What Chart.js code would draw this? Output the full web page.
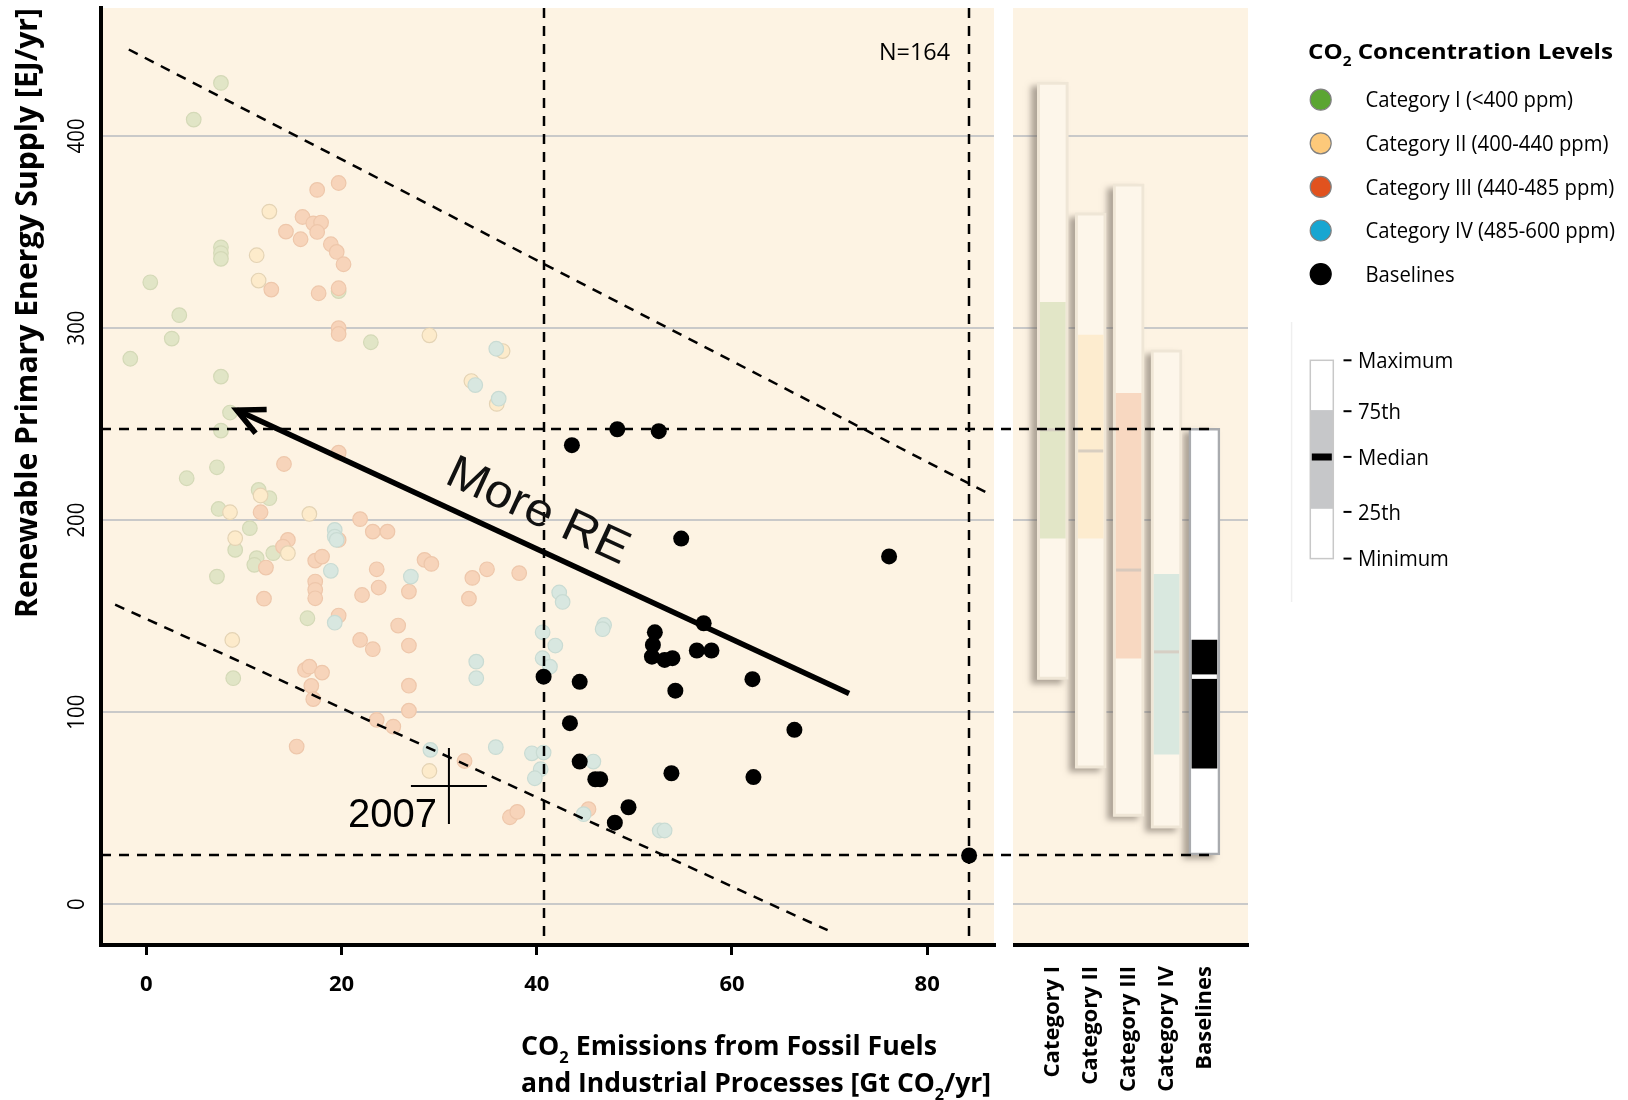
<!DOCTYPE html>
<html>
<head>
<meta charset="utf-8">
<title>Renewable primary energy supply vs CO2 emissions</title>
<script src="https://cdn.jsdelivr.net/npm/chart.js@4.4.1/dist/chart.umd.min.js"></script>
<style>
  html, body { margin: 0; padding: 0; background: #ffffff; }
  body { width: 1628px; height: 1100px; position: relative; overflow: hidden; }
  canvas { position: absolute; top: 0; }
  #mainChart { left: 0; }
  #boxChart { left: 1013px; }
</style>
</head>
<body>
<canvas id="mainChart" width="1013" height="1100"></canvas>
<canvas id="boxChart" width="615" height="1100"></canvas>
<script>
// ---------------- data ----------------
const xTicks = [0, 20, 40, 60, 80];
const yTicks = [0, 100, 200, 300, 400];
const categories = ['Category I', 'Category II', 'Category III', 'Category IV', 'Baselines'];
const legendLabels = ['Category I (<400 ppm)', 'Category II (400-440 ppm)', 'Category III (440-485 ppm)', 'Category IV (485-600 ppm)', 'Baselines'];
const boxLegendLabels = ['Maximum', '75th', 'Median', '25th', 'Minimum'];
const sampleLabel = 'N=164';
const yearLabel = '2007';
const arrowLabel = 'More RE';

// Category I (<400 ppm)
const catI_CO2 = [7.64, 4.85, 7.64, 7.64, 7.64, 0.4, 3.37, 2.6, -1.65, 7.64, 8.57, 7.64, 19.7, 23.0,
  4.13, 7.23, 11.5, 12.6, 7.4, 10.6, 9.1, 13.0, 11.3, 11.06, 7.23, 16.5, 8.9];
const catI_RE = [427.6, 408.5, 342, 339, 336, 323.8, 306.7, 294.5, 284, 274.7, 256, 246.6, 319.2, 292.6,
  221.8, 227.5, 215.7, 211.4, 205.8, 195.8, 184.5, 182.8, 180.2, 176.7, 170.6, 148.9, 117.7];

// Category II (400-440 ppm)
const catII_CO2 = [12.6, 11.3, 11.5, 29.0, 36.5, 33.3, 35.9, 11.7, 8.57, 16.7, 9.1, 14.5, 8.8, 29.0];
const catII_RE = [360.6, 337.9, 324.7, 296.2, 288, 272.4, 260.5, 212.8, 204.1, 203.2, 190.6, 182.8, 137.6, 69.4];

// Category III (440-485 ppm)
const catIII_CO2 = [19.7, 17.5, 16.0, 17.1, 17.9, 17.5, 14.3, 15.8, 18.9, 19.5, 20.2, 12.8, 17.65, 19.7, 19.7, 19.7,
  14.1, 19.7, 11.7, 21.9, 23.2, 24.7, 14.5, 14.0, 12.25, 17.3, 18.0, 19.7, 17.3, 17.3, 17.3, 12.05, 22.1, 23.8,
  23.6, 28.5, 29.2, 26.9, 19.7, 25.8, 21.9, 23.2, 26.9, 16.25, 16.7, 18.0, 16.9, 17.1, 26.9, 26.9, 15.4, 23.6,
  25.3, 32.6, 33.4, 33.05, 34.9, 38.2, 37.25, 38.0, 45.3];
const catIII_RE = [375.5, 371.9, 357.8, 354.5, 354.9, 350, 350.2, 346.2, 343.6, 339.6, 333.2, 320, 318.1, 320.7, 299.9, 296.9,
  229.2, 235.1, 204.1, 200.5, 194, 194, 189.7, 186.2, 175.3, 178.9, 181, 189.7, 168, 163.7, 159.3, 159.1, 161, 164.9,
  174.4, 179.3, 177.2, 162.8, 150.3, 145.1, 137.6, 132.8, 134.7, 122, 123.7, 120.6, 113.7, 106.8, 113.8, 100.8, 82.1, 96,
  92.5, 74.6, 169.9, 159.1, 174.4, 172.4, 45.3, 48.1, 49.5];

// Category IV (485-600 ppm)
const catIV_CO2 = [19.3, 19.3, 19.5, 18.9, 19.3, 27.1, 33.8, 33.8, 29.1, 42.3, 42.65, 46.9, 46.75, 40.6, 41.9, 40.6,
  41.35, 35.8, 39.5, 40.7, 40.4, 39.8, 45.8, 44.8, 52.6, 53.1, 35.85, 33.7, 36.1];
const catIV_RE = [194.9, 191.4, 189.7, 173.6, 146.6, 170.6, 126.3, 117.7, 80.4, 162.3, 157.4, 145.4, 143.2, 141.6, 134.7, 128.1,
  123.7, 81.8, 78.6, 79, 70.3, 65.6, 74.3, 46.9, 38.4, 38.4, 289.2, 270.3, 263.2];

// Baselines
const base_CO2 = [48.25, 52.5, 43.6, 54.8, 57.1, 52.1, 51.9, 51.8, 53.1, 53.9, 56.4, 57.9, 62.1, 40.7, 44.4, 54.2,
  43.4, 44.4, 46.0, 46.5, 53.8, 62.2, 49.4, 48.0, 76.1, 66.4, 84.3];
const base_RE = [247.3, 246.3, 239, 190.4, 146.3, 141.6, 135, 128.9, 127.2, 128.1, 132.1, 132.1, 117.2, 118.5, 115.8, 111.2,
  94.3, 74.3, 65.1, 65.1, 68.2, 66.2, 50.5, 42.5, 181.1, 90.8, 25.4];

// Box statistics (Category I..IV, Baselines)
const boxMax = [428, 360, 375, 288.6, 247.8];
const boxQ3 = [313.4, 296.3, 266, 171.8, 137.6];
const boxMedian = [247, 236, 174, 131.4, 118.5];
const boxQ1 = [190.6, 190.6, 128.1, 78.1, 70.8];
const boxMin = [117, 70.8, 45.7, 39.6, 25.7];

// Guide lines and annotations
const upperGuideCO2 = [-1.8, 86.6];
const upperGuideRE = [445, 213];
const lowerGuideCO2 = [-3.2, 69.8];
const lowerGuideRE = [156, -13.5];
const arrowCO2 = [72.0, 9.25];
const arrowRE = [109.7, 257.3];
const year2007CO2 = [31.0];
const year2007RE = [61.6];

// Axis extents
const xRange = [-4.65, 86.85];
const yRange = [-21.2, 466.6];
const boxXRange = [-0.05, 6.15];

// ---------------- styles ----------------
const PANEL_BG = '#fdf3e3';
const UI = "'Open Sans', 'Noto Sans', 'DejaVu Sans', sans-serif";
const ARIAL = "'Liberation Sans', Arial, 'DejaVu Sans', sans-serif";
const fullColors = ['#5ba532', '#fdc97a', '#e1521e', '#18a6d1', '#000000'];
const fadedFill = ['#e1e5c6', '#fdebcb', '#f7d4ba', '#d8e7e0'];
const fadedBorder = ['#d4d9b7', '#e4d3b4', '#eec7ab', '#c9dbd3'];
const rangeFill = ['#fdf6ea', '#fdf6ea', '#fdf6ea', '#fdf6ea', '#ffffff'];
const rangeBorder = ['#efe6d6', '#efe6d6', '#efe6d6', '#efe6d6', '#a9abae'];
const iqrFill = ['#e2e6c7', '#fdeccf', '#f8d8c1', '#d9e8df', '#000000'];
const medianColor = ['#d6cfc2', '#d8cec0', '#d8c9bc', '#d6cfc4', '#ffffff'];

Chart.defaults.font.family = UI;

function pts(xs, ys) { return xs.map((x, i) => ({ x, y: ys[i] })); }

// draws (optionally rotated / horizontally fitted) text, parts = [[text, isSubscript], ...]
function drawText(ctx, parts, x, y, o) {
  const size = o.size, weight = o.weight || 'normal', family = o.family || UI;
  const fontFor = sub => `${weight} ${sub ? Math.round(size * 0.62) : size}px ${family}`;
  ctx.save();
  let total = 0;
  const widths = parts.map(([t, sub]) => { ctx.font = fontFor(sub); const w = ctx.measureText(t).width; total += w; return w; });
  const sx = o.width ? o.width / total : (o.sx || 1);
  ctx.translate(x, y);
  if (o.rotate) ctx.rotate(o.rotate);
  if (o.dy) ctx.translate(0, o.dy);
  ctx.scale(sx, 1);
  let cx = o.align === 'center' ? -total / 2 : (o.align === 'right' ? -total : 0);
  ctx.fillStyle = o.color || '#000';
  ctx.textAlign = 'left';
  ctx.textBaseline = 'alphabetic';
  parts.forEach(([t, sub], i) => { ctx.font = fontFor(sub); ctx.fillText(t, cx, sub ? size * 0.3 : 0); cx += widths[i]; });
  ctx.restore();
  return sx;
}

function dashedLine(ctx, x1, y1, x2, y2, offset) {
  ctx.save();
  ctx.strokeStyle = '#000'; ctx.lineWidth = 2.5; ctx.setLineDash([10, 8]); ctx.lineDashOffset = offset || 0;
  ctx.beginPath(); ctx.moveTo(x1, y1); ctx.lineTo(x2, y2); ctx.stroke();
  ctx.restore();
}

// ---------------- main scatter chart ----------------
const mainDecor = {
  id: 'mainDecor',
  beforeDraw(chart) {
    const { ctx, chartArea: a } = chart;
    ctx.save(); ctx.fillStyle = PANEL_BG; ctx.fillRect(a.left, a.top, a.right - a.left, a.bottom - a.top); ctx.restore();
  },
  afterDatasetsDraw(chart) {
    const { ctx, chartArea: a } = chart;
    const xs = chart.scales.x, ys = chart.scales.y;
    // ranges of the baseline scenarios
    [Math.min(...base_CO2), Math.max(...base_CO2)].forEach(v => {
      const px = Math.round(xs.getPixelForValue(v));
      dashedLine(ctx, px, a.top, px, a.bottom);
    });
    [Math.max(...base_RE), Math.min(...base_RE)].forEach(v => {
      const py = Math.round(ys.getPixelForValue(v));
      dashedLine(ctx, a.left, py, chart.width, py);
    });
    // arrow head + label
    const ai = chart.data.datasets.findIndex(d => d.label === 'arrow');
    const am = chart.getDatasetMeta(ai).data;
    const tail = am[0], tip = am[1];
    const phi = Math.atan2(tail.y - tip.y, tail.x - tip.x);
    const L = 30, al = 26 * Math.PI / 180;
    ctx.save();
    ctx.strokeStyle = '#000'; ctx.lineWidth = 5.5; ctx.lineJoin = 'miter'; ctx.lineCap = 'butt';
    ctx.beginPath();
    ctx.moveTo(tip.x + L * Math.cos(phi - al), tip.y + L * Math.sin(phi - al));
    ctx.lineTo(tip.x, tip.y);
    ctx.lineTo(tip.x + L * Math.cos(phi + al), tip.y + L * Math.sin(phi + al));
    ctx.stroke();
    ctx.restore();
    const u = 0.468;
    drawText(ctx, [[arrowLabel, 0]], tip.x + (tail.x - tip.x) * u, tip.y + (tail.y - tip.y) * u,
      { size: 47, family: ARIAL, rotate: phi, dy: -21, align: 'center', width: 196, color: '#111' });
    // 2007 label
    const ci = chart.data.datasets.findIndex(d => d.label === '2007');
    const cp = chart.getDatasetMeta(ci).data[0];
    drawText(ctx, [[yearLabel, 0]], cp.x - 12, cp.y + 40.7, { size: 40, family: ARIAL, align: 'right' });
  },
  afterDraw(chart) {
    const ctx = chart.ctx, ys = chart.scales.y;
    ys.ticks.forEach(t => {
      const py = ys.getPixelForValue(t.value);
      drawText(ctx, [[String(t.value), 0]], 84, py, { size: 24, rotate: -Math.PI / 2, align: 'center', sx: 0.85 });
    });
    drawText(ctx, [['Renewable Primary Energy Supply [EJ/yr]', 0]], 37, 313,
      { size: 31, weight: 'bold', rotate: -Math.PI / 2, align: 'center', width: 610 });
    drawText(ctx, [['CO', 0], ['2', 1], [' Emissions from Fossil Fuels', 0]], 521, 1055, { size: 26, weight: 'bold', width: 416 });
    drawText(ctx, [['and Industrial Processes [Gt CO', 0], ['2', 1], ['/yr]', 0]], 521, 1092, { size: 26, weight: 'bold', width: 470 });
    drawText(ctx, [[sampleLabel, 0]], 879, 60, { size: 23, width: 71 });
  }
};

function fadedSet(label, xs, ys, k, order) {
  return { type: 'scatter', label, data: pts(xs, ys), backgroundColor: fadedFill[k], borderColor: fadedBorder[k],
    borderWidth: 1.2, pointRadius: 7.3, pointHoverRadius: 7.3, order };
}
function guideSet(label, xs, ys, width, dash, order) {
  return { type: 'line', label, data: pts(xs, ys), borderColor: '#000', borderWidth: width, borderDash: dash,
    pointRadius: 0, fill: false, showLine: true, tension: 0, borderCapStyle: 'butt', order };
}

new Chart(document.getElementById('mainChart'), {
  type: 'scatter',
  data: {
    datasets: [
      { type: 'scatter', label: categories[4], data: pts(base_CO2, base_RE), backgroundColor: '#000', borderWidth: 0,
        pointRadius: 8, pointHoverRadius: 8, order: 0 },
      guideSet('arrow', arrowCO2, arrowRE, 5.5, [], 1),
      guideSet('upper guide', upperGuideCO2, upperGuideRE, 2.5, [10, 8], 2),
      guideSet('lower guide', lowerGuideCO2, lowerGuideRE, 2.5, [10, 8], 2),
      { type: 'scatter', label: '2007', data: pts(year2007CO2, year2007RE), pointStyle: 'cross', pointRadius: 38,
        pointHoverRadius: 38, borderColor: '#000', borderWidth: 2, order: 2 },
      fadedSet(categories[3], catIV_CO2, catIV_RE, 3, 3),
      fadedSet(categories[1], catII_CO2, catII_RE, 1, 4),
      fadedSet(categories[2], catIII_CO2, catIII_RE, 2, 5),
      fadedSet(categories[0], catI_CO2, catI_RE, 0, 6)
    ]
  },
  options: {
    responsive: false, animation: false, events: [],
    layout: { autoPadding: false, padding: { top: 8, right: 19, left: 0, bottom: 0 } },
    plugins: { legend: { display: false }, tooltip: { enabled: false } },
    scales: {
      x: {
        type: 'linear', min: xRange[0], max: xRange[1], offset: false,
        afterBuildTicks: s => { s.ticks = xTicks.map(v => ({ value: v })); },
        afterFit: s => { s.height = 155; },
        grid: { drawOnChartArea: false, drawTicks: true, tickLength: 10, color: '#000', lineWidth: 3 },
        border: { display: true, color: '#000', width: 4 },
        ticks: { color: '#000', font: { family: UI, weight: 'bold', size: 22 }, padding: 17, maxRotation: 0, autoSkip: false }
      },
      y: {
        type: 'linear', min: yRange[0], max: yRange[1],
        afterBuildTicks: s => { s.ticks = yTicks.map(v => ({ value: v })); },
        afterFit: s => { s.width = 101; },
        grid: { color: '#c9c9c9', lineWidth: 2, drawTicks: false },
        border: { display: true, color: '#000', width: 4 },
        ticks: { display: false }
      }
    }
  },
  plugins: [mainDecor]
});

// ---------------- box-plot panel + legends ----------------
const OX = 1013;
const boxDecor = {
  id: 'boxDecor',
  beforeDraw(chart) {
    const { ctx, chartArea: a } = chart;
    ctx.save(); ctx.fillStyle = PANEL_BG; ctx.fillRect(a.left, a.top, a.right - a.left, a.bottom - a.top); ctx.restore();
  },
  beforeDatasetDraw(chart, args) {
    if (args.meta.label !== 'range') return;
    const ctx = chart.ctx;
    ctx.save();
    ctx.shadowColor = 'rgba(95,85,75,0.5)'; ctx.shadowBlur = 6; ctx.shadowOffsetX = -6; ctx.shadowOffsetY = 4;
    args.meta.data.forEach((el, i) => {
      const p = el.getProps(['x', 'y', 'base', 'width'], true);
      ctx.fillStyle = rangeBorder[i];
      ctx.fillRect(p.x - p.width / 2, Math.min(p.y, p.base), p.width, Math.abs(p.base - p.y));
    });
    ctx.restore();
  },
  afterDatasetsDraw(chart) {
    const { ctx, chartArea: a } = chart;
    const xs = chart.scales.x, ys = chart.scales.y;
    const endX = xs.getPixelForValue(categories.length) + 12;
    [Math.max(...base_RE), Math.min(...base_RE)].forEach(v => {
      const py = Math.round(ys.getPixelForValue(v));
      dashedLine(ctx, a.left, py, endX, py, (OX - 101) % 18);
    });
  },
  afterDraw(chart) {
    const ctx = chart.ctx;
    // legend: CO2 concentration levels
    drawText(ctx, [['CO', 0], ['2', 1], [' Concentration Levels', 0]], 1308 - OX, 59, { size: 22, weight: 'bold', width: 305 });
    ctx.save(); ctx.font = `21px ${UI}`;
    const s0 = 207.7 / ctx.measureText(legendLabels[0]).width;
    ctx.restore();
    legendLabels.forEach((lab, i) => {
      const cy = 99.7 + i * 43.6;
      ctx.save();
      ctx.beginPath(); ctx.arc(1320.7 - OX, cy, 10.5, 0, Math.PI * 2);
      ctx.fillStyle = fullColors[i]; ctx.fill();
      ctx.lineWidth = 1.2; ctx.strokeStyle = i === 4 ? '#000' : '#808080'; ctx.stroke();
      ctx.restore();
      drawText(ctx, [[lab, 0]], 1365.4 - OX, cy + 7.6, { size: 21, sx: s0 });
    });
    // legend: box explanation
    ctx.save();
    ctx.strokeStyle = '#efefef'; ctx.lineWidth = 1.5;
    ctx.beginPath(); ctx.moveTo(1291.6 - OX, 322); ctx.lineTo(1291.6 - OX, 602); ctx.stroke();
    const bx = 1310.3 - OX, bw = 23;
    ctx.fillStyle = '#ffffff'; ctx.fillRect(bx, 360.3, bw, 198.3);
    ctx.fillStyle = '#c6c7c9'; ctx.fillRect(bx, 410.1, bw, 98.7);
    ctx.fillStyle = '#000'; ctx.fillRect(bx + 1.5, 453.5, bw - 3, 7);
    ctx.strokeStyle = '#c8c8c8'; ctx.lineWidth = 1.5; ctx.strokeRect(bx, 360.3, bw, 198.3);
    const ly = [360.3, 411.2, 456.9, 511.9, 558.6];
    ctx.strokeStyle = '#000'; ctx.lineWidth = 2;
    ly.forEach(y => { ctx.beginPath(); ctx.moveTo(1343.5 - OX, y); ctx.lineTo(1351.5 - OX, y); ctx.stroke(); });
    ctx.restore();
    boxLegendLabels.forEach((lab, i) => drawText(ctx, [[lab, 0]], 1358 - OX, ly[i] + 7.6, { size: 21, sx: s0 }));
  }
};

const boxIdx = categories.map((c, i) => i + 1);
new Chart(document.getElementById('boxChart'), {
  type: 'bar',
  data: {
    datasets: [
      { type: 'bar', label: 'range', data: boxIdx.map((x, i) => ({ x, y: [boxMin[i], boxMax[i]] })),
        backgroundColor: rangeFill, borderColor: rangeBorder, borderWidth: [3, 3, 3, 3, 2.5], borderSkipped: false,
        barThickness: 31, grouped: false, order: 3 },
      { type: 'bar', label: 'iqr', data: boxIdx.map((x, i) => ({ x, y: [boxQ1[i], boxQ3[i]] })),
        backgroundColor: iqrFill, borderWidth: 0, barThickness: 25, grouped: false, order: 2 },
      { type: 'scatter', label: 'median', data: boxIdx.map((x, i) => ({ x, y: boxMedian[i] })),
        pointStyle: 'line', pointRadius: 12.5, pointHoverRadius: 12.5, borderColor: medianColor,
        borderWidth: [3, 3, 3, 3, 4.5], order: 1 }
    ]
  },
  options: {
    responsive: false, animation: false, events: [],
    layout: { autoPadding: false, padding: { top: 8, right: 380, left: 0, bottom: 0 } },
    plugins: { legend: { display: false }, tooltip: { enabled: false } },
    scales: {
      x: {
        type: 'linear', min: boxXRange[0], max: boxXRange[1], offset: false,
        afterBuildTicks: s => { s.ticks = boxIdx.map(v => ({ value: v })); },
        afterFit: s => { s.height = 155; },
        grid: { display: false, drawTicks: false, drawOnChartArea: false },
        border: { display: true, color: '#000', width: 4 },
        ticks: { color: '#000', font: { family: UI, weight: 'bold', size: 22 }, padding: 21, minRotation: 90, maxRotation: 90,
          autoSkip: false, callback: v => categories[v - 1] || '' }
      },
      y: {
        type: 'linear', min: yRange[0], max: yRange[1],
        afterBuildTicks: s => { s.ticks = yTicks.map(v => ({ value: v })); },
        afterFit: s => { s.width = 0; },
        grid: { color: '#c9c9c9', lineWidth: 2, drawTicks: false },
        border: { display: false },
        ticks: { display: false }
      }
    }
  },
  plugins: [boxDecor]
});
</script>
</body>
</html>
